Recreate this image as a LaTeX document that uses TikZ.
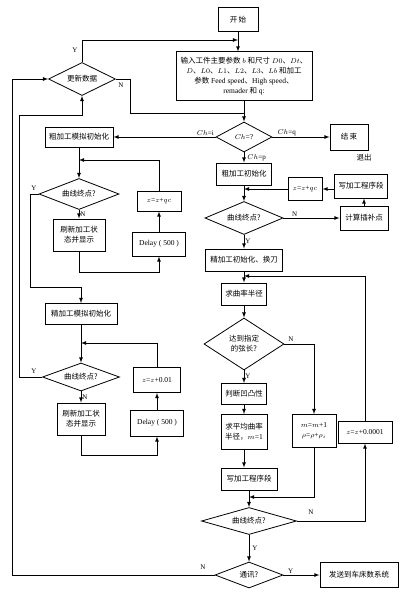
\documentclass[tikz,border=0pt]{standalone}
\usepackage{fontspec}
\setmainfont{Liberation Serif}
\newfontfamily\cjk{Noto Sans CJK SC}
\usetikzlibrary{shapes.geometric}
\begin{document}
\begin{tikzpicture}[x=1pt, y=-1pt, line width=0.8pt, >=latex,
  font=\cjk\fontsize{7.5}{10}\selectfont,
  box/.style={draw, line width=1pt, inner sep=1pt, align=center},
  dia/.style={draw, diamond, aspect=2.4, inner sep=0pt, align=center},
  lab/.style={font=\rmfamily\fontsize{7}{8}\selectfont, inner sep=1pt}]
    \useasboundingbox (0,0) rectangle (406,594);
    % main column
    \node[box, minimum width=40, minimum height=24] (start) at (238,20) {开\,始};
    \node[box, minimum width=136, minimum height=48] (input) at (244,76)
    {输入工件主要参数 $b$ 和尺寸 $D0$、$Dt$、\\$D$、$L0$、$L1$、$L2$、$L3$、$Lb$ 和加工\\参数 {\rmfamily Feed speed}、{\rmfamily High speed}、\\{\rmfamily remader} 和 {\rmfamily q:}};
    \node[dia, minimum width=67, minimum height=33] (upd) at (82,79) {更新数据};
    \node[dia, minimum width=56, minimum height=30] (chq) at (244,137) {{\rmfamily $Ch$=?}};
    \node[box, minimum width=38, minimum height=26] (end) at (349,137) {结\,束};
    \node (quit) at (364,158) {退出};
    \node[box, minimum width=55, minimum height=22] (rinit) at (244,174) {粗加工初始化};
    \node[dia, minimum width=78, minimum height=33] (rdec) at (244,218) {曲线终点?};
    \node[box, minimum width=34, minimum height=23] (rz) at (305,189) {{\rmfamily $z$=$z$+$qc$}};
    \node[box, minimum width=53, minimum height=24] (rwrite) at (361,186) {写加工程序段};
    \node[box, minimum width=48, minimum height=24] (rcalc) at (364,218) {计算插补点};
    \node[box, minimum width=77, minimum height=22] (finit) at (244,260) {精加工初始化、换刀};
    \node[box, minimum width=45, minimum height=22] (radius) at (244,294) {求曲率半径};
    \node[dia, minimum width=80, minimum height=52] (chord) at (244,344) {达到指定\\的弦长?};
    \node[box, minimum width=45, minimum height=21] (convex) at (244,394) {判断凹凸性};
    \node[box, minimum width=46, minimum height=35] (avg) at (244,432) {求平均曲率\\半径，{\rmfamily $m$=1}};
    \node[box, minimum width=44, minimum height=33] (mbox) at (314,431) {{\rmfamily $m$=$m$+1}\\{\rmfamily $\rho$=$\rho$+$\rho_i$}};
    \node[box, minimum width=54, minimum height=22] (zbox) at (365,432) {{\rmfamily $z$=$z$+0.0001}};
    \node[box, minimum width=56, minimum height=22] (bwrite) at (249,479) {写加工程序段};
    \node[dia, minimum width=95, minimum height=27] (bdec) at (249,521) {曲线终点?};
    \node[dia, minimum width=68, minimum height=26] (comm) at (249,575) {通讯?};
    \node[box, minimum width=78, minimum height=25] (send) at (359,575) {发送到车床数系统};
    % left column
    \node[box, minimum width=68, minimum height=20] (rsim) at (79,137) {粗加工模拟初始化};
    \node[dia, minimum width=80, minimum height=31] (ldec1) at (79,194) {曲线终点?};
    \node[box, minimum width=52, minimum height=32] (lshow1) at (79,235) {刷新加工状\\态并显示};
    \node[box, minimum width=44, minimum height=20] (lz1) at (159,201) {{\rmfamily $z$=$z$+$qc$}};
    \node[box, minimum width=53, minimum height=24] (ldelay1) at (159,244) {\rmfamily Delay ( 500 )};
    \node[box, minimum width=72, minimum height=21] (lfsim) at (81,314) {精加工模拟初始化};
    \node[dia, minimum width=77, minimum height=28] (ldec2) at (81,377) {曲线终点?};
    \node[box, minimum width=48, minimum height=32] (lshow2) at (81,419) {刷新加工状\\态并显示};
    \node[box, minimum width=47, minimum height=25] (lz2) at (157,380) {{\rmfamily $z$=$z$+0.01}};
    \node[box, minimum width=53, minimum height=26] (ldelay2) at (157,423) {\rmfamily Delay ( 500 )};
    % junctions
    \coordinate (j0) at (238,40);
    \coordinate (j1) at (79,160);
    \coordinate (j2) at (81,343);
    \coordinate (j3) at (244,189);
    \coordinate (j4) at (244,276);
    \coordinate (j5) at (249,497);
    \coordinate (j6) at (244,113);
    % right side connectors
    \draw[->] (start) -- (start |- input.north);
    \draw[->] (upd.north) |- (j0);
    \draw (upd.east) -- (130,79) |- (j6);
    \draw[->] (input.south) -- (chq.north);
    \draw[->] (chq.west) -- node[lab, pos=0.1, above] (lci) {$Ch$=i} (rsim.east);
    \draw[->] (chq.east) -- node[lab, pos=0.25, above] (lcq) {$Ch$=q} (end.west);
    \draw[->] (chq.south) -- node[lab, right=2pt] (lcp) {$Ch$=p} (rinit.north);
    \draw[->] (rinit.south) -- (rdec.north);
    \draw[->] (rz.west) -- (j3);
    \draw[->] (rz.east -| rwrite.west) -- (rz.east);
    \draw[->] (rcalc.north) -- (rcalc.north |- rwrite.south);
    \draw[->] (rdec.east) -- node[lab, pos=0.2, above] (nrdec) {N} (rcalc.west);
    \draw[->] (rdec.south) -- node[lab, right] (yrdec) {Y} (finit.north);
    \draw[->] (finit.south) -- (radius.north);
    \draw[->] (zbox.north) |- (j4);
    \draw[->] (radius.south) -- (chord.north);
    \draw[->] (chord.east) -| (mbox.north);
    \node[lab] (nchord) at (291,339) {N};
    \draw[->] (chord.south) -- node[lab, right] (ychord) {Y} (convex.north);
    \draw[->] (convex.south) -- (avg.north);
    \draw[->] (avg.south) -- (avg.south |- bwrite.north);
    \draw[->] (bwrite.south) -- (bdec.north);
    \draw[->] (mbox.south) |- (j5);
    \draw[->] (bdec.east) -| (zbox.south);
    \node[lab] (nbdec) at (311,512) {N};
    \draw[->] (bdec.south) -- node[lab, right=2pt] (ybdec) {Y} (comm.north);
    \draw[->] (comm.east) -- node[lab, pos=0.2, above] (ycomm) {Y} (send.west);
    \draw[->] (comm.west) -| (12,79) -- (upd.west);
    \node[lab] (ncomm) at (203,567) {N};
    \node[lab] (yupd) at (75,50) {Y};
    \node[lab] (nupd) at (121,85) {N};
    % left side connectors
    \draw[->] (rsim.south) -- (ldec1.north);
    \draw[->] (lz1.north) |- (j1);
    \draw[->] (ldec1.south) -- node[lab, right] (nldec1) {N} (lshow1.north);
    \draw[->] (lshow1.south) -- (79,272) -| (ldelay1.south);
    \draw[->] (ldelay1.north) -- (lz1.south);
    \draw[->] (ldec1.west) -| (30,287) -| (lfsim.north);
    \node[lab] (yldec1) at (34,188) {Y};
    \draw[->] (lfsim.south) -- (ldec2.north);
    \draw[->] (lz2.north) |- (j2);
    \draw[->] (ldec2.south) -- node[lab, right] (nldec2) {N} (lshow2.north);
    \draw[->] (lshow2.south) -- (81,455) -| (ldelay2.south);
    \draw[->] (ldelay2.north) -- (lz2.south);
    \draw[->] (ldec2.west) -| (19,115) -| (upd.south);
    \node[lab] (yldec2) at (34,371) {Y};
\end{tikzpicture}
\end{document}
